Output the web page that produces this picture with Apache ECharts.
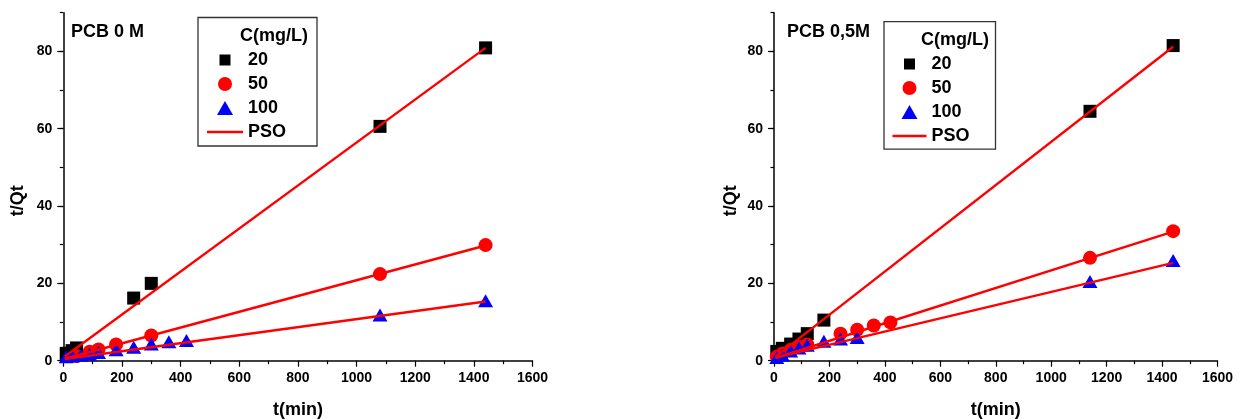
<!DOCTYPE html>
<html>
<head>
<meta charset="utf-8">
<script src="https://cdn.jsdelivr.net/npm/echarts@6/dist/echarts.min.js"></script>
<style>
  html, body { margin: 0; padding: 0; background: #ffffff; }
  #chart { width: 1243px; height: 419px; }
</style>
</head>
<body>
<div id="chart"></div>
<script>
// Pseudo-second-order kinetics: t/Qt against t(min), two adsorbents side by side.
const FONT = '"Liberation Sans", Arial, Helvetica, sans-serif';

// ---- PCB 0 M ----
const leftC20 = [[10, 1.9], [30, 2.6], [45, 3.3], [240, 16.2], [300, 20.0], [1080, 60.6], [1440, 80.9]];
const leftC50 = [[45, 1.2], [90, 2.3], [120, 2.9], [180, 4.2], [300, 6.5], [1080, 22.4], [1440, 29.9]];
const leftC100 = [[10, 1.0], [30, 1.2], [60, 1.4], [90, 1.7], [120, 2.1], [180, 2.8], [240, 3.5], [300, 4.3], [360, 4.9], [420, 5.2], [1080, 11.8], [1440, 15.5]];
const leftPso20 = [[5, 1.1], [1440, 80.9]];
const leftPso50 = [[5, 0.5], [1440, 29.8]];
const leftPso100 = [[5, 0.45], [1440, 15.3]];

// ---- PCB 0,5M ----
const rightC20 = [[10, 2.4], [30, 3.2], [60, 4.3], [90, 5.6], [120, 7.0], [180, 10.5], [1140, 64.5], [1440, 81.5]];
const rightC50 = [[10, 1.0], [30, 1.8], [60, 2.8], [90, 3.6], [120, 4.2], [240, 7.0], [300, 8.0], [360, 9.1], [420, 9.9], [1140, 26.6], [1440, 33.5]];
const rightC100 = [[10, 0.8], [30, 1.5], [60, 2.5], [90, 3.3], [120, 4.0], [180, 5.0], [240, 5.6], [300, 6.0], [1140, 20.5], [1440, 25.9]];
const rightPso20 = [[5, 1.0], [1440, 81.2]];
const rightPso50 = [[5, 0.7], [1440, 33.4]];
const rightPso100 = [[5, 0.8], [1440, 25.3]];

// Axis ticks and labels
const xRange = [0, 1600];
const xStep = 200;
const yRange = [0, 90];
const yStep = 20;
const yMinorStep = 10;
const yLabelValues = [0, 20, 40, 60, 80];

const panelTitles = ['PCB 0 M', 'PCB 0,5M'];
const legendTitle = 'C(mg/L)';
const seriesNames = ['20', '50', '100', 'PSO'];

const chart = echarts.init(document.getElementById('chart'), null, { renderer: 'canvas' });

const labelStyle = { color: '#000', fontFamily: FONT, fontWeight: 'bold', fontSize: 14 };
const nameStyle = { color: '#000', fontFamily: FONT, fontWeight: 'bold', fontSize: 18 };
const axisLine = { show: true, onZero: false, lineStyle: { color: '#000', width: 1.5 } };

function xAxis(gridIndex) {
  return {
    type: 'value', gridIndex, min: xRange[0], max: xRange[1], interval: xStep,
    name: 't(min)', nameLocation: 'middle', nameGap: 40, nameTextStyle: nameStyle,
    axisLine, axisTick: { show: true, length: 6, lineStyle: { color: '#000', width: 1.2 } },
    minorTick: { show: true, splitNumber: 2, length: 3.5, lineStyle: { color: '#000', width: 1.2 } },
    axisLabel: Object.assign({ margin: 10, formatter: v => String(v) }, labelStyle),
    splitLine: { show: false }
  };
}
function yAxisMain(gridIndex, nameGap) {
  return {
    type: 'value', gridIndex, min: yRange[0], max: yRange[1], interval: yStep, position: 'left',
    name: 't/Qt', nameLocation: 'middle', nameGap, nameRotate: 90,
    nameTextStyle: Object.assign({ padding: [0, 28, 0, 0] }, nameStyle),
    axisLine,
    axisTick: { show: true, length: 6, customValues: yLabelValues, lineStyle: { color: '#000', width: 1.2 } },
    axisLabel: Object.assign({ margin: 11,
      formatter: v => (yLabelValues.indexOf(v) >= 0 ? String(v) : '') }, labelStyle),
    splitLine: { show: false }
  };
}
function yAxisMinor(gridIndex) {
  return {
    type: 'value', gridIndex, min: yRange[0], max: yRange[1], interval: yMinorStep, position: 'left',
    axisLine: { show: false },
    axisTick: { show: true, length: 3.5, lineStyle: { color: '#000', width: 1.2 } },
    axisLabel: { show: false }, splitLine: { show: false }
  };
}

function scatter(name, data, xi, yi, symbol, size, color) {
  return { type: 'scatter', name, data, xAxisIndex: xi, yAxisIndex: yi, symbol, symbolSize: size,
    itemStyle: { color, opacity: 1 }, z: 2 };
}
function fit(data, xi, yi) {
  return { type: 'line', name: seriesNames[3], data, xAxisIndex: xi, yAxisIndex: yi, symbol: 'none',
    lineStyle: { color: '#ff0000', width: 2.4 }, itemStyle: { color: '#ff0000' }, z: 3, silent: true };
}

// Legend icons: small square, circle, triangle, plain line
const squareIcon = 'path://M0,0L0,0M1.5,1.5H12.5V12.5H1.5ZM14,14L14,14';
const triIcon = 'path://M8,0L16,14L0,14Z';
const lineIcon = 'path://M0,0H36V2.4H0Z';
function legend(left, top, itemWidth) {
  return {
    left, top, padding: 0, orient: 'vertical', itemWidth, itemHeight: 14, itemGap: 6,
    selectedMode: false, symbolKeepAspect: true,
    data: [
      { name: seriesNames[0], icon: squareIcon },
      { name: seriesNames[1], icon: 'circle' },
      { name: seriesNames[2], icon: triIcon },
      { name: seriesNames[3], icon: lineIcon, itemStyle: { color: '#ff0000' } }
    ],
    textStyle: { color: '#000', fontFamily: FONT, fontWeight: 'bold', fontSize: 18 }
  };
}
function legendFrame(x, y, w, h, titleX, titleY) {
  return [
    { type: 'rect', shape: { x, y, width: w, height: h },
      style: { fill: 'none', stroke: '#333', lineWidth: 1.3 }, z: 10 },
    { type: 'text', x: titleX, y: titleY,
      style: { text: legendTitle, fill: '#000', font: 'bold 18px ' + FONT, align: 'center', verticalAlign: 'middle' }, z: 10 }
  ];
}

chart.setOption({
  backgroundColor: '#ffffff',
  animation: false,
  title: [
    { text: panelTitles[0], left: 71, top: 23, padding: 0,
      textStyle: { color: '#000', fontFamily: FONT, fontWeight: 'bold', fontSize: 18 } },
    { text: panelTitles[1], left: 787, top: 23, padding: 0,
      textStyle: { color: '#000', fontFamily: FONT, fontWeight: 'bold', fontSize: 18 } }
  ],
  grid: [
    { left: 63.3, right: 710.5, top: 12.7, bottom: 58.3, containLabel: false, outerBoundsMode: 'none' },
    { left: 774, right: 25.5, top: 12.7, bottom: 58.3, containLabel: false, outerBoundsMode: 'none' }
  ],
  xAxis: [xAxis(0), xAxis(1)],
  yAxis: [yAxisMain(0, 36), yAxisMinor(0), yAxisMain(1, 34), yAxisMinor(1)],
  legend: [legend(207, 51, 36), legend(892.5, 55, 34)],
  graphic: [].concat(
    legendFrame(198, 17.5, 119, 128.5, 274, 36),
    legendFrame(884, 21.7, 111.5, 127.5, 955, 40)
  ),
  series: [
    scatter(seriesNames[0], leftC20, 0, 0, 'rect', 13, '#000000'),
    scatter(seriesNames[1], leftC50, 0, 0, 'circle', 14, '#ff0000'),
    scatter(seriesNames[2], leftC100, 0, 0, 'triangle', [15, 13], '#0000ff'),
    fit(leftPso20, 0, 0), fit(leftPso50, 0, 0), fit(leftPso100, 0, 0),
    scatter(seriesNames[0], rightC20, 1, 2, 'rect', 13, '#000000'),
    scatter(seriesNames[1], rightC50, 1, 2, 'circle', 14, '#ff0000'),
    scatter(seriesNames[2], rightC100, 1, 2, 'triangle', [15, 13], '#0000ff'),
    fit(rightPso20, 1, 2), fit(rightPso50, 1, 2), fit(rightPso100, 1, 2)
  ]
});
</script>
</body>
</html>
